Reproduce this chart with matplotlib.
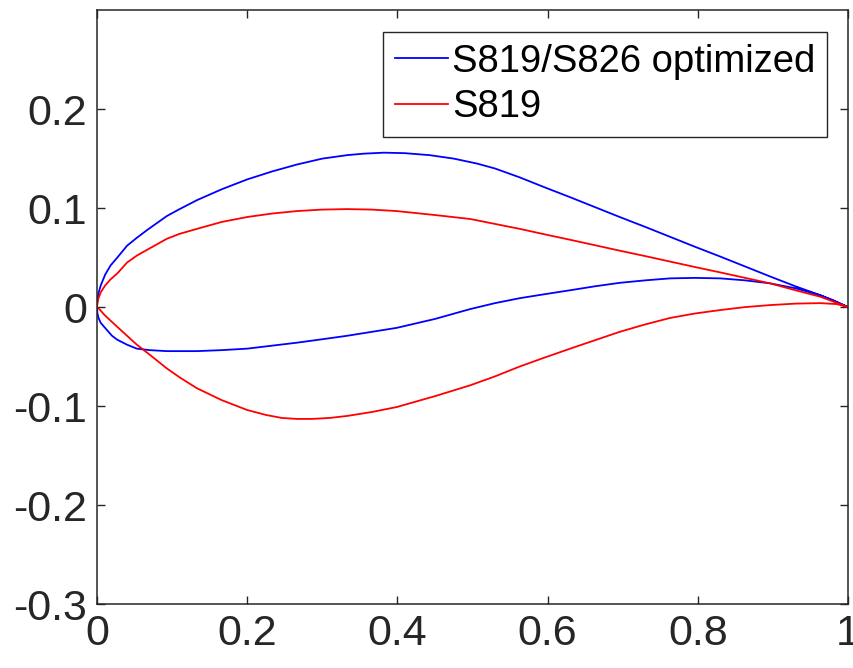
import matplotlib
matplotlib.use('Agg')
import matplotlib.pyplot as plt

# coordenadas (extrados de borde de salida a borde de ataque, intrados al reves)
x_sup_opt = [1.0, 0.98, 0.963, 0.93, 0.896, 0.863, 0.830, 0.796, 0.763, 0.730, 0.696,
             0.663, 0.630, 0.596, 0.563, 0.530, 0.506, 0.475, 0.443, 0.410, 0.382, 0.355,
             0.333, 0.300, 0.266, 0.233, 0.200, 0.166, 0.133, 0.110, 0.093, 0.080, 0.067,
             0.053, 0.040, 0.027, 0.018, 0.011, 0.005, 0.002, 0.0005, 0.0]
y_sup_opt = [0.0, 0.007, 0.012, 0.021, 0.031, 0.041, 0.051, 0.061, 0.071, 0.081, 0.091,
             0.101, 0.111, 0.121, 0.131, 0.140, 0.145, 0.150, 0.1535, 0.1555, 0.156, 0.155,
             0.1535, 0.150, 0.144, 0.137, 0.129, 0.119, 0.108, 0.099, 0.092, 0.085, 0.078,
             0.070, 0.062, 0.050, 0.042, 0.033, 0.022, 0.014, 0.007, 0.0]
x_inf_opt = [0.0, 0.0005, 0.002, 0.005, 0.013, 0.020, 0.027, 0.040, 0.053, 0.070, 0.093,
             0.133, 0.166, 0.200, 0.233, 0.266, 0.300, 0.333, 0.366, 0.399, 0.450, 0.497,
             0.530, 0.563, 0.596, 0.630, 0.663, 0.696, 0.730, 0.763, 0.796, 0.830, 0.863,
             0.896, 0.930, 0.963, 0.985, 1.0]
y_inf_opt = [0.0, -0.006, -0.011, -0.016, -0.023, -0.029, -0.033, -0.038, -0.042, -0.0435, -0.0445,
             -0.0445, -0.0435, -0.042, -0.039, -0.036, -0.0325, -0.029, -0.025, -0.021, -0.012, -0.002,
             0.004, 0.009, 0.013, 0.017, 0.021, 0.0245, 0.027, 0.029, 0.0295, 0.029, 0.027,
             0.024, 0.019, 0.012, 0.005, 0.0]

x_sup_s819 = [1.0, 0.963, 0.930, 0.896, 0.863, 0.830, 0.796, 0.763, 0.730, 0.696, 0.663,
              0.630, 0.596, 0.563, 0.530, 0.497, 0.450, 0.399, 0.366, 0.333, 0.300, 0.266,
              0.233, 0.200, 0.166, 0.133, 0.110, 0.093, 0.067, 0.053, 0.040, 0.027, 0.018,
              0.011, 0.005, 0.002, 0.0005, 0.0]
y_sup_s819 = [0.0, 0.0105, 0.017, 0.024, 0.0295, 0.035, 0.0405, 0.046, 0.0515, 0.057, 0.0625,
              0.068, 0.0735, 0.079, 0.084, 0.089, 0.093, 0.097, 0.0985, 0.099, 0.0985, 0.097,
              0.0945, 0.091, 0.086, 0.079, 0.074, 0.069, 0.058, 0.052, 0.045, 0.034, 0.028,
              0.022, 0.015, 0.009, 0.004, 0.0]
x_inf_s819 = [0.0, 0.003, 0.010, 0.027, 0.040, 0.053, 0.070, 0.093, 0.110, 0.133, 0.166,
              0.200, 0.225, 0.246, 0.266, 0.286, 0.310, 0.333, 0.366, 0.399, 0.450, 0.497,
              0.530, 0.563, 0.596, 0.630, 0.663, 0.696, 0.730, 0.763, 0.796, 0.830, 0.863,
              0.896, 0.930, 0.963, 0.985, 1.0]
y_inf_s819 = [0.0, -0.002, -0.008, -0.020, -0.029, -0.038, -0.048, -0.062, -0.071, -0.082, -0.094,
              -0.104, -0.109, -0.112, -0.113, -0.113, -0.112, -0.110, -0.106, -0.101, -0.090, -0.079,
              -0.070, -0.060, -0.051, -0.042, -0.0335, -0.025, -0.0175, -0.011, -0.0065, -0.003, 0.0,
              0.002, 0.0035, 0.004, 0.003, 0.0]

etiquetas = ['S819/S826 optimized', 'S819']
x_ticks = [0, 0.2, 0.4, 0.6, 0.8, 1]
x_tick_labels = ['0', '0.2', '0.4', '0.6', '0.8', '1']
y_ticks = [-0.3, -0.2, -0.1, 0, 0.1, 0.2]
y_tick_labels = ['-0.3', '-0.2', '-0.1', '0', '0.1', '0.2']

plt.rcParams['font.family'] = ['Liberation Sans', 'DejaVu Sans']
gris = '#262626'

fig = plt.figure(figsize=(8.54, 6.68), dpi=100)
ax = fig.add_axes([0.1136, 0.0958, 0.8794, 0.889])

# cada perfil como una sola curva cerrada
ax.plot(x_sup_opt + x_inf_opt, y_sup_opt + y_inf_opt, color=(0, 0, 1), linewidth=1.3,
        label=etiquetas[0])
ax.plot(x_sup_s819 + x_inf_s819, y_sup_s819 + y_inf_s819, color=(1, 0, 0), linewidth=1.3,
        label=etiquetas[1])

ax.set_xlim(0, 1)
ax.set_ylim(-0.3, 0.3)
ax.set_xticks(x_ticks)
ax.set_xticklabels(x_tick_labels)
ax.set_yticks(y_ticks)
ax.set_yticklabels(y_tick_labels)
ax.tick_params(direction='in', length=6, width=1, top=True, right=True,
               labelsize=31, colors=gris, pad=7)
for s in ax.spines.values():
    s.set_color(gris)
    s.set_linewidth(1.1)

leg = ax.legend(loc='upper right', bbox_to_anchor=(0.972, 0.963), fontsize=27.5,
                frameon=True, fancybox=False, edgecolor=gris, framealpha=1,
                handlelength=1.4, handletextpad=0.1, borderpad=0.3,
                labelspacing=0.25, borderaxespad=0)
leg.get_frame().set_linewidth(1.0)

fig.savefig('out.png', dpi=100)
